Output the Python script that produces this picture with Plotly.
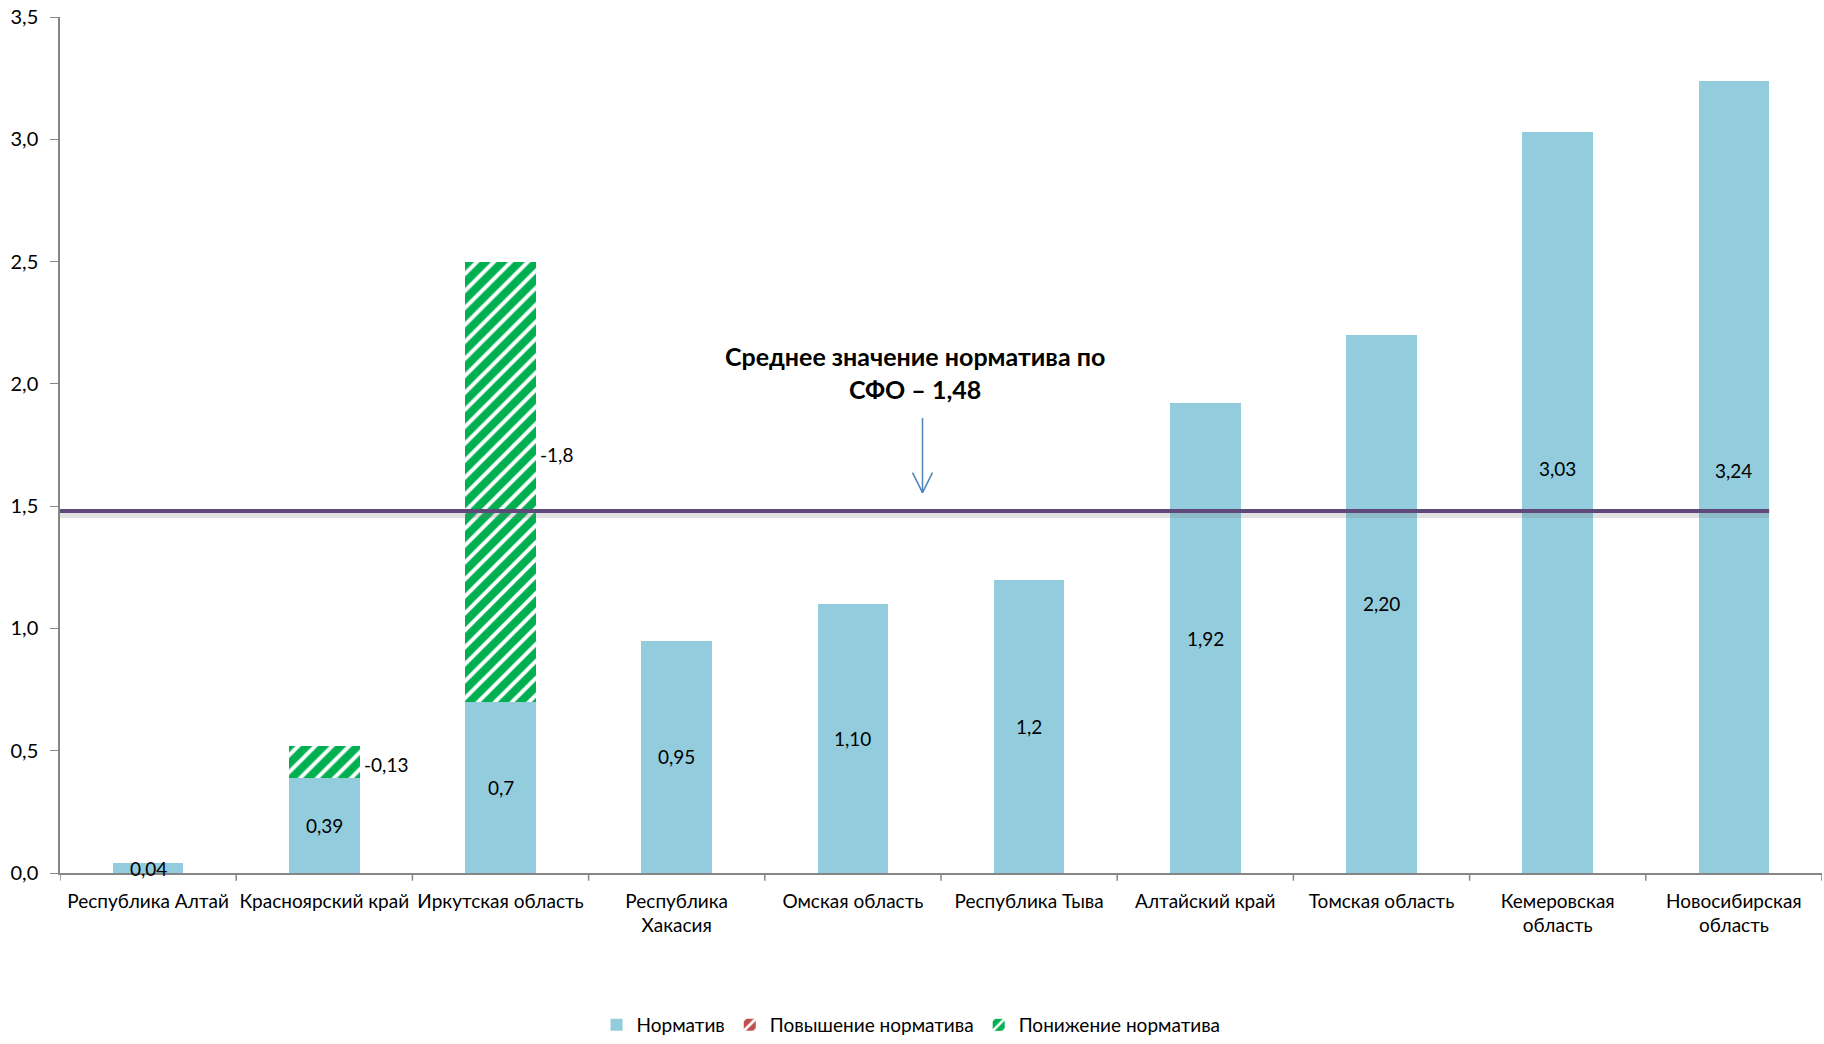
import plotly.graph_objects as go

categories = ["Республика Алтай", "Красноярский край", "Иркутская область",
              "Республика<br>Хакасия", "Омская область", "Республика Тыва",
              "Алтайский край", "Томская область", "Кемеровская<br>область",
              "Новосибирская<br>область"]
normativ = [0.04, 0.39, 0.70, 0.95, 1.10, 1.20, 1.92, 2.20, 3.03, 3.24]
normativ_labels = ["0,04", "0,39", "0,7", "0,95", "1,10", "1,2", "1,92", "2,20", "3,03", "3,24"]
increase = [None] * 10
decrease = [None, 0.13, 1.80, None, None, None, None, None, None, None]
decrease_labels = [None, "-0,13", "-1,8", None, None, None, None, None, None, None]
mean_value = 1.48
mean_text = "Среднее значение норматива по<br>СФО – 1,48"

BLUE = "#93CDDD"
GREEN = "#00B050"
RED = "#C0504D"
PURPLE = "#5F497A"
ARROW = "#4F81BD"
FONT = "Lato"

idx = list(range(len(categories)))

fig = go.Figure()
fig.add_trace(go.Bar(x=idx, y=normativ, name="Норматив", marker=dict(color=BLUE, line=dict(width=0)),
                     width=0.4, hoverinfo="skip"))
fig.add_trace(go.Bar(x=idx, y=increase, name="Повышение норматива",
                     marker=dict(color=RED, line=dict(width=0),
                                 pattern=dict(shape="/", fgcolor="white", bgcolor=RED, size=12,
                                              solidity=0.35, fillmode="replace")),
                     width=0.4, hoverinfo="skip"))
fig.add_trace(go.Bar(x=idx, y=decrease, name="Понижение норматива",
                     marker=dict(color=GREEN, line=dict(width=0),
                                 pattern=dict(shape="/", fgcolor="white", bgcolor=GREEN, size=12,
                                              solidity=0.33, fillmode="replace")),
                     width=0.4, hoverinfo="skip"))

# mean line with soft shadow
x_end = len(categories) - 1 + 0.2
fig.add_shape(type="line", xref="x", yref="y", x0=-0.5, x1=x_end,
              y0=mean_value - 0.012, y1=mean_value - 0.012,
              line=dict(color="rgba(120,120,120,0.22)", width=8), layer="above")
fig.add_shape(type="line", xref="x", yref="y", x0=-0.5, x1=x_end,
              y0=mean_value, y1=mean_value,
              line=dict(color=PURPLE, width=4), layer="above")

# arrow (shaft + open V head)
arrow_x, arrow_top, arrow_tip = 4.395, 1.86, 1.555
fig.add_shape(type="line", xref="x", yref="y", x0=arrow_x, x1=arrow_x, y0=arrow_top, y1=arrow_tip,
              line=dict(color=ARROW, width=1.5))
for dx in (-10, 10):
    fig.add_shape(type="line", xref="x", yref="y", xsizemode="pixel", ysizemode="pixel",
                  xanchor=arrow_x, yanchor=arrow_tip, x0=0, y0=0, x1=dx, y1=20,
                  line=dict(color=ARROW, width=1.5))

annotations = []
shift_px = {8: 34, 9: 6}
for i, (v, t) in enumerate(zip(normativ, normativ_labels)):
    annotations.append(dict(x=i, y=v / 2, text=t, showarrow=False, xref="x", yref="y",
                            yshift=shift_px.get(i, 0),
                            font=dict(family=FONT, size=19, color="#000")))
base = normativ
dec_shift = {1: -3, 2: 27}
for i, (d, t) in enumerate(zip(decrease, decrease_labels)):
    if d is None:
        continue
    annotations.append(dict(x=i + 0.2, y=base[i] + d / 2, text=t, showarrow=False, xref="x", yref="y",
                            xanchor="left", xshift=2, yshift=dec_shift.get(i, 0),
                            font=dict(family=FONT, size=19, color="#000")))
# mean annotation text
annotations.append(dict(x=4.35, y=1.91, text="<b>" + mean_text + "</b>", showarrow=False,
                        xref="x", yref="y", yanchor="bottom", align="center",
                        font=dict(family=FONT, size=25, color="#000")))

fig.update_layout(
    width=1824, height=1044,
    margin=dict(l=60, r=2, t=17, b=171),
    paper_bgcolor="white", plot_bgcolor="white",
    barmode="stack", bargap=0.6,
    separators=", ",
    font=dict(family=FONT, size=19, color="#000"),
    showlegend=True,
    legend=dict(orientation="h", x=0.483, xanchor="center", xref="paper",
                y=-0.0075, yanchor="bottom", yref="container",
                traceorder="normal",
                font=dict(family=FONT, size=19, color="#000"), itemwidth=30,
                tracegroupgap=0),
    annotations=annotations,
    xaxis=dict(tickmode="array", tickvals=idx, ticktext=categories, range=[-0.5, len(categories) - 0.5],
               automargin=False,
               showgrid=False, zeroline=False, showline=True, linecolor="#868686", linewidth=1.5,
               ticks="outside", ticklen=10, tickcolor="rgba(0,0,0,0)",
               tickfont=dict(family=FONT, size=19, color="#000")),
    yaxis=dict(range=[0, 3.5], dtick=0.5, tick0=0, tickformat=".1f", showgrid=False, zeroline=False,
               automargin=False,
               showline=True, linecolor="#868686", linewidth=1.5, ticks="outside", ticklen=8,
               tickcolor="#868686", ticklabelstandoff=8,
               tickfont=dict(family=FONT, size=20, color="#000")),
)

# boundary tick marks on x axis
for b in range(len(categories) + 1):
    fig.add_shape(type="line", xref="x", yref="paper", x0=b - 0.5, x1=b - 0.5, y0=0, y1=-0.009,
                  line=dict(color="#868686", width=1.5))

fig.write_html("out.html", config={"displayModeBar": False},
               post_script="document.body.style.margin='0';")
